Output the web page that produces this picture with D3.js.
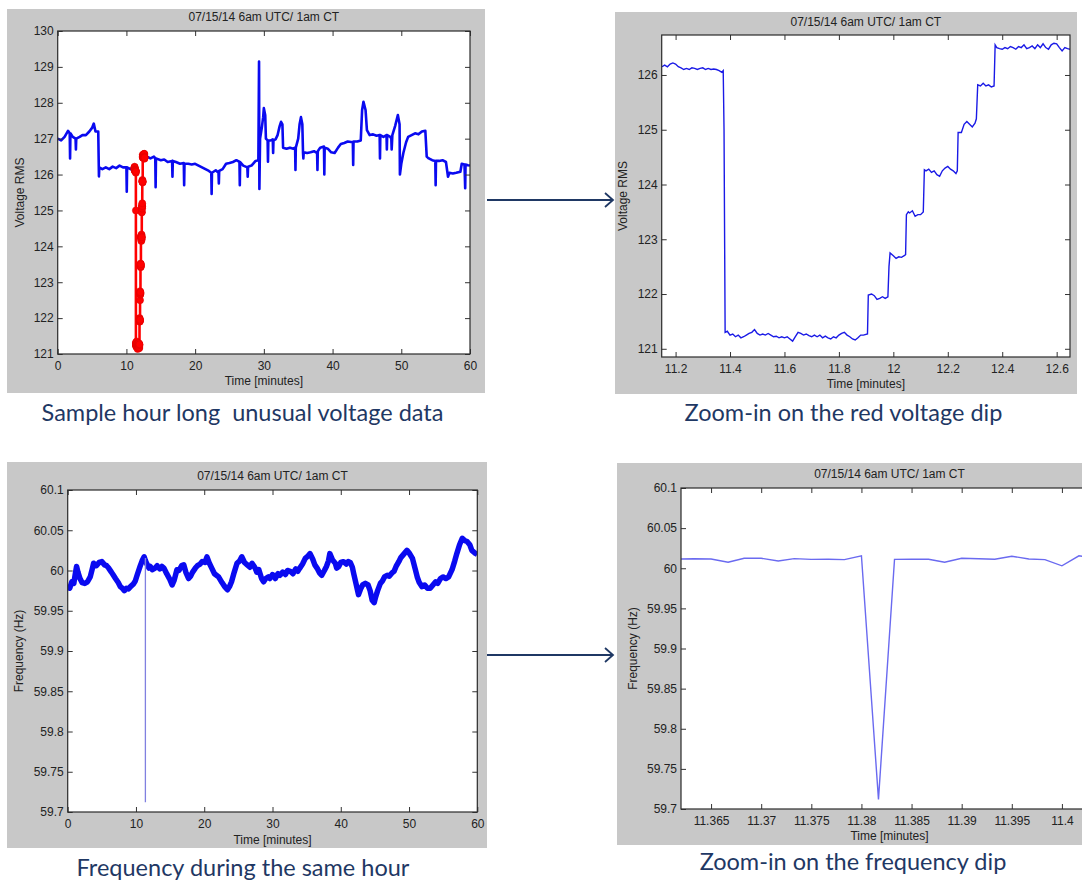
<!DOCTYPE html>
<html>
<head>
<meta charset="utf-8">
<script src="https://cdn.jsdelivr.net/npm/d3@7"></script>
<style>
  body { margin: 0; background: #fff; }
  svg { display: block; }
  .ax text, .lbl { font-family: "Liberation Sans", Arial, sans-serif; font-size: 12px; fill: #222; }
  .cap { font-family: Lato, "Open Sans", sans-serif; font-size: 23.5px; fill: #1f3864; }
</style>
</head>
<body>
<div id="chart"></div>
<script>
// Titles and labels
const title = "07/15/14 6am UTC/ 1am CT";
const timeLabel = "Time [minutes]";
const captions = ["Sample hour long  unusual voltage data", "Zoom-in on the red voltage dip",
                  "Frequency during the same hour", "Zoom-in on the frequency dip"];

// Tick values
const hourTicks = [0, 10, 20, 30, 40, 50, 60];
const voltHourTicks = [121, 122, 123, 124, 125, 126, 127, 128, 129, 130];
const voltZoomXTicks = [11.2, 11.4, 11.6, 11.8, 12, 12.2, 12.4, 12.6];
const voltZoomYTicks = [121, 122, 123, 124, 125, 126];
const freqTicks = [59.7, 59.75, 59.8, 59.85, 59.9, 59.95, 60, 60.05, 60.1];
const freqZoomXTicks = [11.365, 11.37, 11.375, 11.38, 11.385, 11.39, 11.395, 11.4];

// Voltage over the hour [minute, volts] (null = gap under the red dip)
const voltHour = [
  [0,127.0],[0.5,126.95],[1.0,127.05],[1.5,127.22],[1.75,127.15],[1.8,126.45],[1.85,127.15],[2.2,127.05],
  [2.6,127.0],[2.65,126.7],[2.7,127.0],[3.2,127.05],[3.6,127.1],[4.1,127.1],[4.6,127.2],[5.0,127.3],
  [5.25,127.42],[5.5,127.2],[5.9,127.2],[6.0,125.95],[6.05,126.2],[6.5,126.15],[7.0,126.2],[7.5,126.15],
  [8.0,126.22],[8.5,126.18],[9.0,126.25],[9.5,126.2],[10.0,126.2],[10.05,125.52],[10.1,126.2],[10.6,126.15],
  [11.0,126.22],[11.15,126.15],[11.5,null],[12.65,126.5],[13.0,126.5],[13.5,126.45],[14.0,126.5],[14.2,126.45],
  [14.25,125.65],[14.3,126.45],[15.0,126.4],[15.5,126.42],[16.0,126.35],[16.65,126.38],[16.7,125.94],[16.75,126.38],
  [17.2,126.35],[17.8,126.3],[18.35,126.32],[18.4,125.7],[18.45,126.3],[19.0,126.3],[19.5,126.28],[20.0,126.3],
  [20.5,126.25],[21.0,126.2],[21.5,126.15],[22.0,126.1],[22.35,126.05],[22.4,125.46],[22.45,126.05],[23.0,126.12],
  [23.4,126.05],[23.45,125.75],[23.5,126.1],[24.0,126.15],[24.5,126.3],[25.0,126.32],[25.5,126.35],[26.0,126.4],
  [26.45,126.35],[26.5,125.7],[26.55,126.35],[27.0,126.25],[27.6,126.2],[27.65,125.94],[27.7,126.22],[28.2,126.25],
  [28.8,126.38],[29.2,126.4],[29.3,129.15],[29.35,125.6],[29.45,127.0],[29.7,127.3],[29.9,127.6],[30.0,127.85],
  [30.2,127.65],[30.3,127.0],[30.55,126.95],[30.6,126.36],[30.65,126.95],[31.0,126.95],[31.3,126.98],[31.35,126.6],
  [31.4,126.95],[31.7,126.98],[32.0,127.1],[32.3,127.35],[32.5,127.47],[32.7,127.4],[32.8,126.75],[33.3,126.72],
  [33.8,126.75],[34.3,126.72],[34.55,126.75],[34.6,126.13],[34.65,126.75],[35.0,127.0],[35.2,127.4],[35.4,127.6],
  [35.6,127.4],[35.7,126.6],[35.75,126.45],[35.8,126.62],[36.3,126.6],[36.8,126.62],[37.3,126.65],[37.75,126.6],
  [37.8,126.13],[37.85,126.65],[38.2,126.75],[38.75,126.78],[38.8,126.0],[38.85,126.75],[39.3,126.72],[39.8,126.62],
  [40.3,126.6],[40.8,126.75],[41.2,126.85],[41.7,126.88],[42.2,126.92],[42.95,126.9],[43.0,126.27],[43.05,126.92],
  [43.6,126.92],[44.1,126.95],[44.3,127.8],[44.5,128.03],[44.8,127.8],[45.0,127.24],[45.4,127.1],[45.9,127.12],
  [46.4,127.08],[46.85,127.1],[46.9,126.45],[46.95,127.1],[47.4,127.05],[47.85,127.1],[47.9,126.7],[47.95,127.1],
  [48.4,127.05],[48.55,127.0],[48.6,126.7],[48.7,127.1],[49.1,127.35],[49.5,127.66],[49.75,127.4],[49.8,126.0],
  [50.0,126.3],[50.3,126.6],[50.7,126.9],[51.0,127.05],[51.5,127.1],[52.0,127.15],[52.5,127.12],[53.0,127.2],
  [53.5,127.22],[53.7,126.5],[54.0,126.45],[54.5,126.4],[54.95,126.38],[55.0,125.7],[55.05,126.38],[55.5,126.38],
  [56.0,126.4],[56.5,126.35],[56.8,125.94],[57.0,126.05],[57.5,126.03],[58.0,126.05],[58.6,126.08],[58.8,126.3],
  [59.2,126.28],[59.3,125.62],[59.35,126.28],[59.7,126.26],[60,126.25]
];

// Voltage during the dip [minute, volts]
const voltZoom = [
  [11.15,126.15],[11.16,126.18],[11.17,126.15],[11.18,126.2],[11.19,126.22],[11.20,126.2],[11.21,126.15],[11.22,126.13],
  [11.23,126.1],[11.24,126.12],[11.25,126.1],[11.26,126.13],[11.27,126.12],[11.28,126.1],[11.29,126.12],[11.30,126.13],
  [11.31,126.1],[11.32,126.12],[11.33,126.1],[11.34,126.11],[11.35,126.1],[11.36,126.08],[11.37,126.05],[11.375,126.08],
  [11.378,125.0],[11.382,121.3],[11.39,121.32],[11.40,121.25],[11.41,121.27],[11.42,121.22],[11.43,121.25],[11.44,121.2],
  [11.45,121.22],[11.46,121.25],[11.47,121.28],[11.48,121.3],[11.49,121.35],[11.50,121.28],[11.51,121.25],[11.52,121.27],
  [11.53,121.25],[11.54,121.28],[11.55,121.25],[11.56,121.22],[11.57,121.23],[11.58,121.2],[11.59,121.22],[11.60,121.2],
  [11.61,121.22],[11.62,121.18],[11.63,121.14],[11.64,121.22],[11.65,121.3],[11.66,121.28],[11.67,121.25],[11.68,121.27],
  [11.69,121.24],[11.70,121.22],[11.71,121.25],[11.72,121.22],[11.73,121.25],[11.74,121.2],[11.75,121.23],[11.76,121.2],
  [11.77,121.18],[11.78,121.22],[11.79,121.2],[11.80,121.25],[11.81,121.28],[11.82,121.3],[11.83,121.25],[11.84,121.22],
  [11.85,121.18],[11.86,121.16],[11.87,121.2],[11.88,121.25],[11.89,121.25],[11.905,121.27],[11.908,121.98],[11.92,122.0],
  [11.93,121.97],[11.94,121.9],[11.95,121.92],[11.96,121.95],[11.97,121.92],[11.98,121.95],[11.984,122.5],[11.988,122.75],
  [12.0,122.7],[12.01,122.65],[12.02,122.68],[12.03,122.67],[12.04,122.7],[12.045,122.72],[12.048,123.45],[12.055,123.5],
  [12.06,123.48],[12.07,123.52],[12.08,123.42],[12.09,123.45],[12.10,123.45],[12.11,123.5],[12.114,124.27],[12.12,124.25],
  [12.13,124.28],[12.14,124.22],[12.15,124.25],[12.16,124.18],[12.17,124.15],[12.18,124.25],[12.19,124.3],[12.20,124.33],
  [12.21,124.28],[12.22,124.25],[12.23,124.2],[12.235,124.25],[12.238,124.95],[12.25,124.95],[12.26,125.1],[12.27,125.15],
  [12.28,125.1],[12.29,125.05],[12.30,125.12],[12.305,125.2],[12.31,125.82],[12.32,125.8],[12.33,125.85],[12.34,125.8],
  [12.35,125.82],[12.36,125.78],[12.37,125.8],[12.374,126.55],[12.38,126.5],[12.39,126.48],[12.40,126.47],[12.41,126.5],
  [12.42,126.48],[12.43,126.52],[12.44,126.5],[12.45,126.47],[12.46,126.52],[12.47,126.5],[12.48,126.55],[12.49,126.48],
  [12.50,126.5],[12.51,126.53],[12.52,126.48],[12.53,126.55],[12.54,126.5],[12.55,126.57],[12.56,126.5],[12.57,126.47],
  [12.58,126.55],[12.59,126.58],[12.60,126.57],[12.61,126.5],[12.62,126.44],[12.63,126.5],[12.64,126.48],[12.65,126.47]
];

// Frequency over the hour [minute, Hz]
const freqHour = [
  [0.0,59.982],[0.3,59.978],[0.6,59.986],[0.9,59.984],[1.1,59.995],[1.3,60.005],[1.5,59.998],[1.8,59.99],
  [2.1,59.985],[2.5,59.984],[2.9,59.986],[3.3,59.992],[3.6,60.002],[3.8,60.009],[4.2,60.006],[4.6,60.01],
  [5.0,60.011],[5.4,60.007],[5.7,60.006],[6.0,60.003],[6.4,59.998],[6.7,59.994],[7.0,59.99],[7.4,59.985],
  [7.7,59.98],[8.0,59.978],[8.3,59.975],[8.6,59.978],[8.9,59.977],[9.2,59.98],[9.6,59.983],[9.9,59.987],
  [10.2,59.995],[10.6,60.005],[10.9,60.012],[11.2,60.017],[11.4,60.012],[11.6,60.008],[11.9,60.003],[12.1,60.005],
  [12.4,60.001],[12.8,60.003],[13.1,60.006],[13.5,60.002],[13.8,60.005],[14.1,60.003],[14.5,59.996],[14.9,59.99],
  [15.3,59.982],[15.6,59.988],[16.0,60.001],[16.3,60.0],[16.7,60.006],[17.0,60.007],[17.3,59.998],[17.7,59.99],
  [18.0,59.993],[18.3,59.998],[18.7,60.003],[19.0,60.006],[19.4,60.008],[19.7,60.011],[20.1,60.01],[20.4,60.017],
  [20.7,60.01],[21.1,60.003],[21.5,59.996],[22.1,59.992],[22.6,59.985],[23.0,59.98],[23.4,59.976],[23.7,59.98],
  [24.0,59.986],[24.4,59.998],[24.8,60.009],[25.2,60.012],[25.5,60.017],[25.9,60.01],[26.3,60.007],[26.7,60.004],
  [27.0,60.009],[27.4,60.004],[27.7,59.998],[28.0,60.001],[28.4,59.99],[28.7,59.986],[29.0,59.99],[29.4,59.992],
  [29.6,59.99],[30.0,59.995],[30.4,59.99],[30.8,59.996],[31.1,59.994],[31.5,59.998],[31.9,59.995],[32.2,60.0],
  [32.6,59.999],[33.0,59.996],[33.4,60.002],[33.7,59.999],[34.0,60.003],[34.4,60.008],[34.8,60.015],[35.2,60.018],
  [35.5,60.021],[35.9,60.014],[36.2,60.007],[36.6,60.002],[36.9,59.997],[37.2,59.994],[37.6,60.0],[37.9,60.005],
  [38.2,60.012],[38.4,60.021],[38.8,60.013],[39.2,60.009],[39.4,60.003],[39.7,60.005],[40.0,60.01],[40.4,60.011],
  [40.8,60.008],[41.1,60.011],[41.4,60.01],[41.7,60.004],[41.9,59.996],[42.2,59.985],[42.6,59.97],[42.9,59.977],
  [43.2,59.982],[43.6,59.984],[44.0,59.982],[44.3,59.975],[44.6,59.963],[44.9,59.96],[45.1,59.967],[45.4,59.975],
  [45.8,59.984],[46.1,59.987],[46.4,59.992],[46.8,59.994],[47.1,59.993],[47.5,59.997],[47.8,59.999],[48.1,60.005],
  [48.5,60.011],[48.8,60.016],[49.2,60.02],[49.7,60.025],[50.0,60.022],[50.5,60.015],[50.9,60.002],[51.2,59.992],
  [51.5,59.985],[51.9,59.98],[52.3,59.982],[52.7,59.978],[53.1,59.978],[53.5,59.982],[53.9,59.986],[54.2,59.984],
  [54.6,59.99],[55.0,59.992],[55.4,59.99],[55.8,59.992],[56.3,60.001],[56.7,60.012],[57.0,60.021],[57.4,60.032],
  [57.8,60.04],[58.2,60.037],[58.5,60.036],[58.9,60.032],[59.2,60.025],[59.6,60.022],[60.0,60.02]
];

// Frequency during the dip, 0.1 s samples [minute, Hz]
const freqZoom = [
  [11.3617,60.0115],[11.3633,60.0118],[11.3650,60.0115],[11.3667,60.0075],[11.3683,60.0125],[11.3700,60.0125],
  [11.3717,60.0090],[11.3733,60.0120],[11.3750,60.0110],[11.3767,60.0112],[11.3783,60.0108],[11.3800,60.0155],
  [11.3817,59.7120],[11.3833,60.0110],[11.3850,60.0112],[11.3867,60.0112],[11.3883,60.0075],[11.3900,60.0125],
  [11.3917,60.0118],[11.3933,60.0112],[11.3950,60.0150],[11.3967,60.0115],[11.3983,60.0108],[11.4000,60.0030],
  [11.4017,60.0155],[11.4033,60.0125]
];

const W = 1082, H = 884;
const svg = d3.select("#chart").append("svg")
    .attr("width", W)
    .attr("height", H)
    .style("background", "#fff");

const fmt = d => String(+d.toFixed(4));

// One MATLAB-style figure: gray frame, boxed axes with inner ticks, title and labels
function panel(cfg, id) {
    const [gx, gy, gw, gh] = cfg.frame;
    const [l, t, r, b] = cfg.box;
    svg.append("rect").attr("x", gx).attr("y", gy).attr("width", gw).attr("height", gh).attr("fill", "#c8c8c8");
    svg.append("rect").attr("x", l).attr("y", t).attr("width", r - l).attr("height", b - t).attr("fill", "#fff");

    const x = d3.scaleLinear().domain(cfg.xDomain).range([l, r]);
    const y = d3.scaleLinear().domain(cfg.yDomain).range([b, t]);

    svg.append("clipPath").attr("id", id).append("rect")
        .attr("x", l).attr("y", t).attr("width", r - l).attr("height", b - t);
    const plot = svg.append("g").attr("clip-path", `url(#${id})`);

    const ax = svg.append("g").attr("class", "ax");
    ax.append("g").attr("transform", `translate(0,${b})`)
        .call(d3.axisBottom(x).tickValues(cfg.xTicks).tickFormat(fmt).tickSize(-5).tickPadding(7));
    ax.append("g").attr("transform", `translate(0,${t})`)
        .call(d3.axisTop(x).tickValues(cfg.xTicks).tickFormat("").tickSize(-5));
    ax.append("g").attr("transform", `translate(${l},0)`)
        .call(d3.axisLeft(y).tickValues(cfg.yTicks).tickFormat(fmt).tickSize(-5).tickPadding(4));
    ax.append("g").attr("transform", `translate(${r},0)`)
        .call(d3.axisRight(y).tickValues(cfg.yTicks).tickFormat("").tickSize(-5));
    ax.selectAll(".domain").remove();
    ax.selectAll(".tick line").attr("stroke", "#333");
    ax.append("rect").attr("x", l).attr("y", t).attr("width", r - l).attr("height", b - t)
        .attr("fill", "none").attr("stroke", "#2a2a2a").attr("stroke-width", 1.2);

    svg.append("text").attr("class", "lbl").attr("x", (l + r) / 2).attr("y", cfg.titleY)
        .attr("text-anchor", "middle").attr("dy", "0.35em").text(title);
    svg.append("text").attr("class", "lbl").attr("x", (l + r) / 2).attr("y", cfg.xLabelY)
        .attr("text-anchor", "middle").attr("dy", "0.35em").text(timeLabel);
    svg.append("text").attr("class", "lbl")
        .attr("transform", `translate(${cfg.yLabelX},${(t + b) / 2}) rotate(-90)`)
        .attr("text-anchor", "middle").attr("dy", "0.35em").text(cfg.yLabel);

    return { x, y, plot };
}

const p1 = panel({ frame: [7, 9, 478, 384], box: [57.7, 31, 470, 354], xDomain: [0, 60], yDomain: [121, 130],
    xTicks: hourTicks, yTicks: voltHourTicks, titleY: 16.5, xLabelY: 381, yLabelX: 20, yLabel: "Voltage RMS" }, "c1");
const p2 = panel({ frame: [615, 12, 462, 382], box: [661.7, 35, 1070, 357], xDomain: [11.149, 12.649], yDomain: [120.85, 126.73],
    xTicks: voltZoomXTicks, yTicks: voltZoomYTicks, titleY: 21.5, xLabelY: 383.5, yLabelX: 623, yLabel: "Voltage RMS" }, "c2");
const p3 = panel({ frame: [7, 462, 480, 386], box: [67.7, 490, 477.3, 812], xDomain: [0, 60], yDomain: [59.7, 60.1],
    xTicks: hourTicks, yTicks: freqTicks, titleY: 476, xLabelY: 840, yLabelX: 19, yLabel: "Frequency (Hz)" }, "c3");
const p4 = panel({ frame: [617, 463, 480, 382], box: [681, 488, 1098, 809], xDomain: [11.362, 11.4036], yDomain: [59.7, 60.1],
    xTicks: freqZoomXTicks, yTicks: freqTicks, titleY: 473.5, xLabelY: 835.5, yLabelX: 633, yLabel: "Frequency (Hz)" }, "c4");

function lineFor(p) {
    return d3.line().defined(d => d[1] != null).x(d => p.x(d[0])).y(d => p.y(d[1]));
}

// Hour-long voltage with the dip overlaid in red
p1.plot.append("path").datum(voltHour).attr("d", lineFor(p1))
    .attr("fill", "none").attr("stroke", "#0a0af0").attr("stroke-width", 2.6).attr("stroke-linejoin", "round");
p1.plot.append("path").datum(voltZoom).attr("d", lineFor(p1))
    .attr("fill", "none").attr("stroke", "#ff0000").attr("stroke-width", 2.6);
p1.plot.selectAll("circle").data(voltZoom).join("circle")
    .attr("cx", d => p1.x(d[0])).attr("cy", d => p1.y(d[1])).attr("r", 3.5)
    .attr("fill", "#ff0000").attr("stroke", "#e00000").attr("stroke-width", 0.6);

// Zoomed voltage dip
p2.plot.append("path").datum(voltZoom).attr("d", lineFor(p2))
    .attr("fill", "none").attr("stroke", "#1a1ae6").attr("stroke-width", 1.4);

// Hour-long frequency; the single-sample dip is drawn thin
p3.plot.append("path").datum(freqHour).attr("d", lineFor(p3))
    .attr("fill", "none").attr("stroke", "#0a0af0").attr("stroke-width", 5.5).attr("stroke-linejoin", "round");
p3.plot.append("path").datum(freqZoom).attr("d", lineFor(p3))
    .attr("fill", "none").attr("stroke", "#8080e0").attr("stroke-width", 1.3);

// Zoomed frequency dip
p4.plot.append("path").datum(freqZoom).attr("d", lineFor(p4))
    .attr("fill", "none").attr("stroke", "#6a6af0").attr("stroke-width", 1.4);

// Arrows linking the panels
function arrow(x1, x2, yy) {
    svg.append("line").attr("x1", x1).attr("x2", x2 - 1).attr("y1", yy).attr("y2", yy)
        .attr("stroke", "#1f3864").attr("stroke-width", 1.8);
    svg.append("path").attr("d", `M${x2 - 8},${yy - 7}L${x2},${yy}L${x2 - 8},${yy + 7}`)
        .attr("fill", "none").attr("stroke", "#1f3864").attr("stroke-width", 1.8);
}
arrow(487, 613, 200);
arrow(487, 613, 655);

// Captions
const capPos = [[242.5, 413], [843.5, 413], [243, 868], [853, 861.5]];
svg.selectAll("text.cap").data(captions).join("text")
    .attr("class", "cap")
    .attr("x", (d, i) => capPos[i][0])
    .attr("y", (d, i) => capPos[i][1])
    .attr("text-anchor", "middle").attr("dy", "0.35em")
    .style("white-space", "pre")
    .text(d => d);
</script>
</body>
</html>
